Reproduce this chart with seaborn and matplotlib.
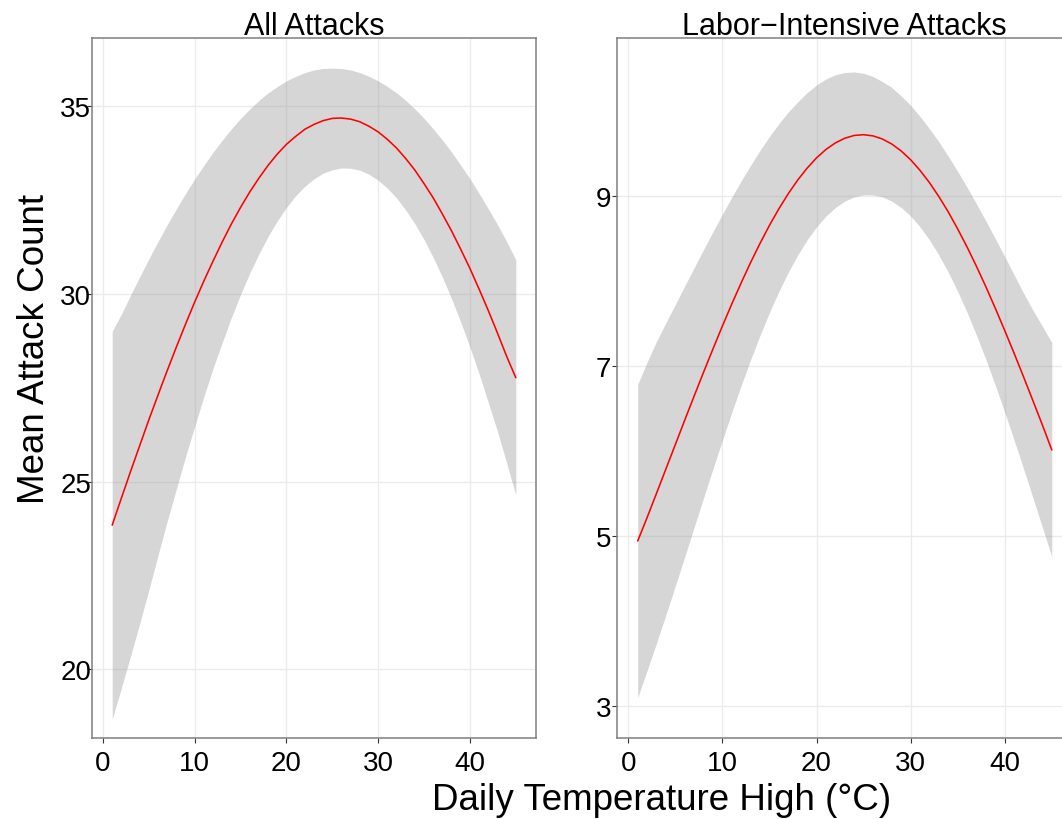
import matplotlib
matplotlib.use("Agg")
from matplotlib import pyplot as plt
import pandas as pd
import seaborn as sns

sns.set_theme(style="white")
plt.rcParams['font.family'] = ['Liberation Sans', 'DejaVu Sans']

# daily temperature high (deg C) at which the fitted curves were read
temp = list(range(1, 46))

# all attacks: fit and confidence band
all_fit = [23.84, 24.56, 25.27, 25.96, 26.65, 27.31, 27.96, 28.59, 29.20, 29.79, 30.35, 30.88,
           31.39, 31.87, 32.31, 32.72, 33.09, 33.43, 33.73, 33.99, 34.20, 34.39, 34.52, 34.62,
           34.68, 34.69, 34.66, 34.59, 34.47, 34.32, 34.12, 33.89, 33.61, 33.30, 32.94, 32.56,
           32.13, 31.68, 31.19, 30.68, 30.13, 29.56, 28.96, 28.34, 27.77]
all_hi = [29.01, 29.46, 29.97, 30.46, 30.94, 31.40, 31.85, 32.27, 32.68, 33.07, 33.43, 33.78,
          34.10, 34.40, 34.68, 34.93, 35.16, 35.36, 35.53, 35.68, 35.80, 35.90, 35.97, 36.01,
          36.02, 36.01, 35.97, 35.90, 35.80, 35.68, 35.53, 35.36, 35.16, 34.93, 34.68, 34.40,
          34.10, 33.78, 33.43, 33.07, 32.68, 32.27, 31.85, 31.40, 30.91]
all_lo = [18.67, 19.50, 20.35, 21.22, 22.12, 23.04, 23.95, 24.81, 25.67, 26.48, 27.27, 28.02,
          28.71, 29.38, 29.99, 30.56, 31.07, 31.54, 31.95, 32.31, 32.62, 32.87, 33.07, 33.22,
          33.31, 33.36, 33.35, 33.30, 33.19, 33.03, 32.82, 32.56, 32.24, 31.87, 31.45, 30.97,
          30.45, 29.87, 29.25, 28.58, 27.87, 27.11, 26.34, 25.50, 24.64]

# labor-intensive attacks: fit and confidence band
li_fit = [4.945, 5.221, 5.506, 5.793, 6.080, 6.367, 6.651, 6.931, 7.205, 7.474, 7.734, 7.983,
          8.222, 8.447, 8.658, 8.853, 9.031, 9.191, 9.331, 9.452, 9.551, 9.628, 9.683, 9.716,
          9.725, 9.711, 9.674, 9.615, 9.533, 9.430, 9.305, 9.161, 8.997, 8.816, 8.616, 8.403,
          8.175, 7.935, 7.682, 7.421, 7.152, 6.876, 6.594, 6.310, 6.016]
li_hi = [6.788, 7.050, 7.294, 7.513, 7.729, 7.946, 8.161, 8.375, 8.585, 8.790, 8.990, 9.182,
         9.366, 9.540, 9.704, 9.855, 9.992, 10.11, 10.22, 10.31, 10.38, 10.43, 10.456, 10.463,
         10.447, 10.41, 10.35, 10.28, 10.18, 10.07, 9.939, 9.795, 9.641, 9.471, 9.293, 9.106,
         8.910, 8.709, 8.500, 8.290, 8.076, 7.860, 7.660, 7.470, 7.280]
li_lo = [3.102, 3.422, 3.745, 4.077, 4.417, 4.760, 5.107, 5.452, 5.795, 6.131, 6.459, 6.776,
         7.079, 7.365, 7.634, 7.881, 8.107, 8.309, 8.488, 8.640, 8.768, 8.868, 8.943, 8.993,
         9.017, 9.017, 8.993, 8.943, 8.868, 8.768, 8.640, 8.488, 8.309, 8.107, 7.881, 7.634,
         7.365, 7.079, 6.776, 6.459, 6.131, 5.795, 5.452, 5.107, 4.760]

titles = ["All Attacks", "Labor\u2212Intensive Attacks"]
yticks_all = [20, 25, 30, 35]
yticks_li = [3, 5, 7, 9]
xticks = [0, 10, 20, 30, 40]


def draw_panel(ax, df, title, yticks, ylim, ypad):
    ax.fill_between(df["Temp"], df["Lo"], df["Hi"], color="#999999", alpha=0.4,
                    linewidth=0, zorder=2)
    sns.lineplot(data=df, x="Temp", y="Fit", color="#FF0000", linewidth=1.15, ax=ax, zorder=3)
    ax.set_xlim(-1.2, 47.2)
    ax.set_ylim(*ylim)
    ax.set_xticks(xticks)
    ax.set_yticks(yticks)
    ax.set_xlabel("")
    ax.set_ylabel("")
    ax.grid(True, color="#EBEBEB", linewidth=1.0, zorder=0)
    ax.set_axisbelow(True)
    for sp in ax.spines.values():
        sp.set_visible(True)
        sp.set_color("#7F7F7F")
        sp.set_linewidth(1.1)
    ax.tick_params(axis="both", which="major", direction="out", length=3.6, width=0.8,
                   color="#333333", labelsize=20, labelcolor="black",
                   bottom=True, left=True, top=False, right=False)
    ax.tick_params(axis="x", pad=5)
    ax.tick_params(axis="y", pad=ypad)
    ax.set_title(title, fontsize=22, pad=2.5, color="black")


fig = plt.figure(figsize=(10.62, 8.2), dpi=100)
ax1 = fig.add_axes([92 / 1062, 81 / 820, 444 / 1062, 700.3 / 820])
ax2 = fig.add_axes([617 / 1062, 81 / 820, 455.5 / 1062, 700.3 / 820])

df_all = pd.DataFrame({"Temp": temp, "Fit": all_fit, "Hi": all_hi, "Lo": all_lo})
df_li = pd.DataFrame({"Temp": temp, "Fit": li_fit, "Hi": li_hi, "Lo": li_lo})

draw_panel(ax1, df_all, titles[0], yticks_all, (18.17, 36.83), -3.0)
draw_panel(ax2, df_li, titles[1], yticks_li, (2.627, 10.866), 0.5)

fig.text(35 / 1062, (820 - 349) / 820, "Mean Attack Count", rotation=90, fontsize=26.5,
         ha="center", va="center", color="black")
fig.text(662 / 1062, 10 / 820, "Daily Temperature High (\u00b0C)", fontsize=26.5,
         ha="center", va="baseline", color="black")

fig.savefig("out.png", dpi=100)
